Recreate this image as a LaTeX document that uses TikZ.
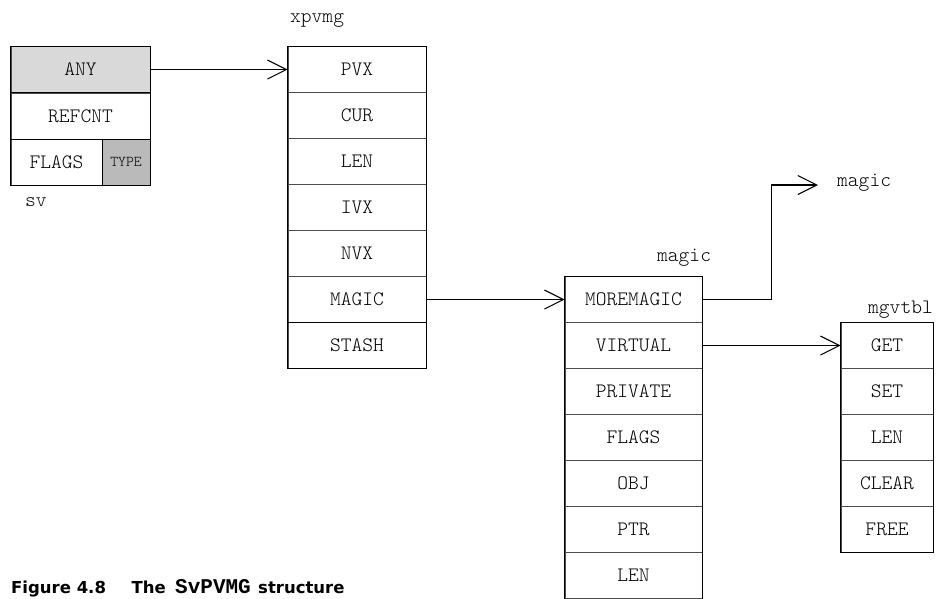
\documentclass[tikz,border=0pt]{standalone}
\usepackage{fontspec}
\usetikzlibrary{arrows.meta}
\newfontfamily\cellfont{Latin Modern Mono Light}
\newfontfamily\capmono{Liberation Mono}
\newfontfamily\capfont{DejaVu Sans}
\begin{document}
\begin{tikzpicture}[x=1pt,y=-1pt,
  cell/.style={draw=black!70, line width=0.6pt, minimum height=46pt, inner sep=0pt, font=\cellfont\fontsize{20.5}{22}\selectfont},
  outer/.style={draw=black, line width=1.3pt},
  ptr/.style={line width=1.1pt, -{Straight Barb[length=19pt,width=19pt,line width=1.1pt]}},
  lbl/.style={font=\cellfont\fontsize{20.5}{22}\selectfont, inner sep=0pt, anchor=base west},
  captext/.style={anchor=base west, inner sep=0pt, font=\capfont\bfseries\fontsize{16.5}{18}\selectfont}]
\useasboundingbox (0,0) rectangle (936,598);
% sv
\node[cell, minimum width=139pt, fill=black!15] (any) at (80.5,69.5) {ANY};
\node[cell, minimum width=139pt] (refcnt) at (80.5,116) {REFCNT};
\node[cell, minimum width=91pt] (flags) at (56.5,162) {FLAGS};
\node[cell, minimum width=48pt, fill=black!27, font=\cellfont\fontsize{15}{17}\selectfont] (type) at (126,162) {TYPE};
\draw[outer] (any.north west) rectangle (type.south east);
\draw[line width=1pt] (refcnt.south west) -- (refcnt.south east) (any.south west) -- (any.south east) (flags.north east) -- (flags.south east);
\node[lbl] (svl) at (25,206.5) {sv};
% xpvmg
\node[lbl] (xpvmgl) at (290,22) {xpvmg};
\node[cell, minimum width=138pt] (pvx) at (357,69.5) {PVX};
\node[cell, minimum width=138pt] (cur) at (357,115.5) {CUR};
\node[cell, minimum width=138pt] (len1) at (357,161.5) {LEN};
\node[cell, minimum width=138pt] (ivx) at (357,207.5) {IVX};
\node[cell, minimum width=138pt] (nvx) at (357,253.5) {NVX};
\node[cell, minimum width=138pt] (magicf) at (357,299.5) {MAGIC};
\node[cell, minimum width=138pt] (stash) at (357,345.5) {STASH};
\draw[outer] (pvx.north west) rectangle (stash.south east);
\draw[line width=1.2pt] (stash.north west) -- (stash.north east);
% magic
\node[lbl] (magicl) at (657,261) {magic};
\node[cell, minimum width=137pt] (moremagic) at (633.5,299.5) {MOREMAGIC};
\node[cell, minimum width=137pt] (virtual) at (633.5,345.5) {VIRTUAL};
\node[cell, minimum width=137pt] (private) at (633.5,391.5) {PRIVATE};
\node[cell, minimum width=137pt] (mflags) at (633.5,437.5) {FLAGS};
\node[cell, minimum width=137pt] (obj) at (633.5,483.5) {OBJ};
\node[cell, minimum width=137pt] (ptr) at (633.5,529.5) {PTR};
\node[cell, minimum width=137pt] (mlen) at (633.5,575.5) {LEN};
\draw[outer] (mlen.south west) -- (moremagic.north west) -- (moremagic.north east) -- (mlen.south east);
% mgvtbl
\node[lbl] (mgvtbll) at (868,313) {mgvtbl};
\node[cell, minimum width=92pt] (get) at (887,345.5) {GET};
\node[cell, minimum width=92pt] (set) at (887,391.5) {SET};
\node[cell, minimum width=92pt] (vlen) at (887,437.5) {LEN};
\node[cell, minimum width=92pt] (clear) at (887,483.5) {CLEAR};
\node[cell, minimum width=92pt] (free) at (887,529.5) {FREE};
\draw[outer] (get.north west) rectangle (free.south east);
% second magic label
\node[lbl] (magic2l) at (837,186) {magic};
\coordinate (mmtip) at (818,185);
% connectors
\draw[ptr] (any.east) -- (pvx.west);
\draw[ptr] (magicf.east) -- (moremagic.west);
\draw[ptr] (moremagic.east) -- (771.5,299.5) |- (mmtip);
\draw[ptr] (virtual.east) -- (get.west);
% caption
\node[captext] (figno) at (11,593) {Figure 4.8};
\node[captext] (capthe) at (131.5,593) {The};
\node[captext, font=\capmono\bfseries\fontsize{21}{23}\selectfont] (capsv) at (175,593) {SvPVMG};
\node[captext] (capstr) at (258,593) {structure};
\end{tikzpicture}
\end{document}
